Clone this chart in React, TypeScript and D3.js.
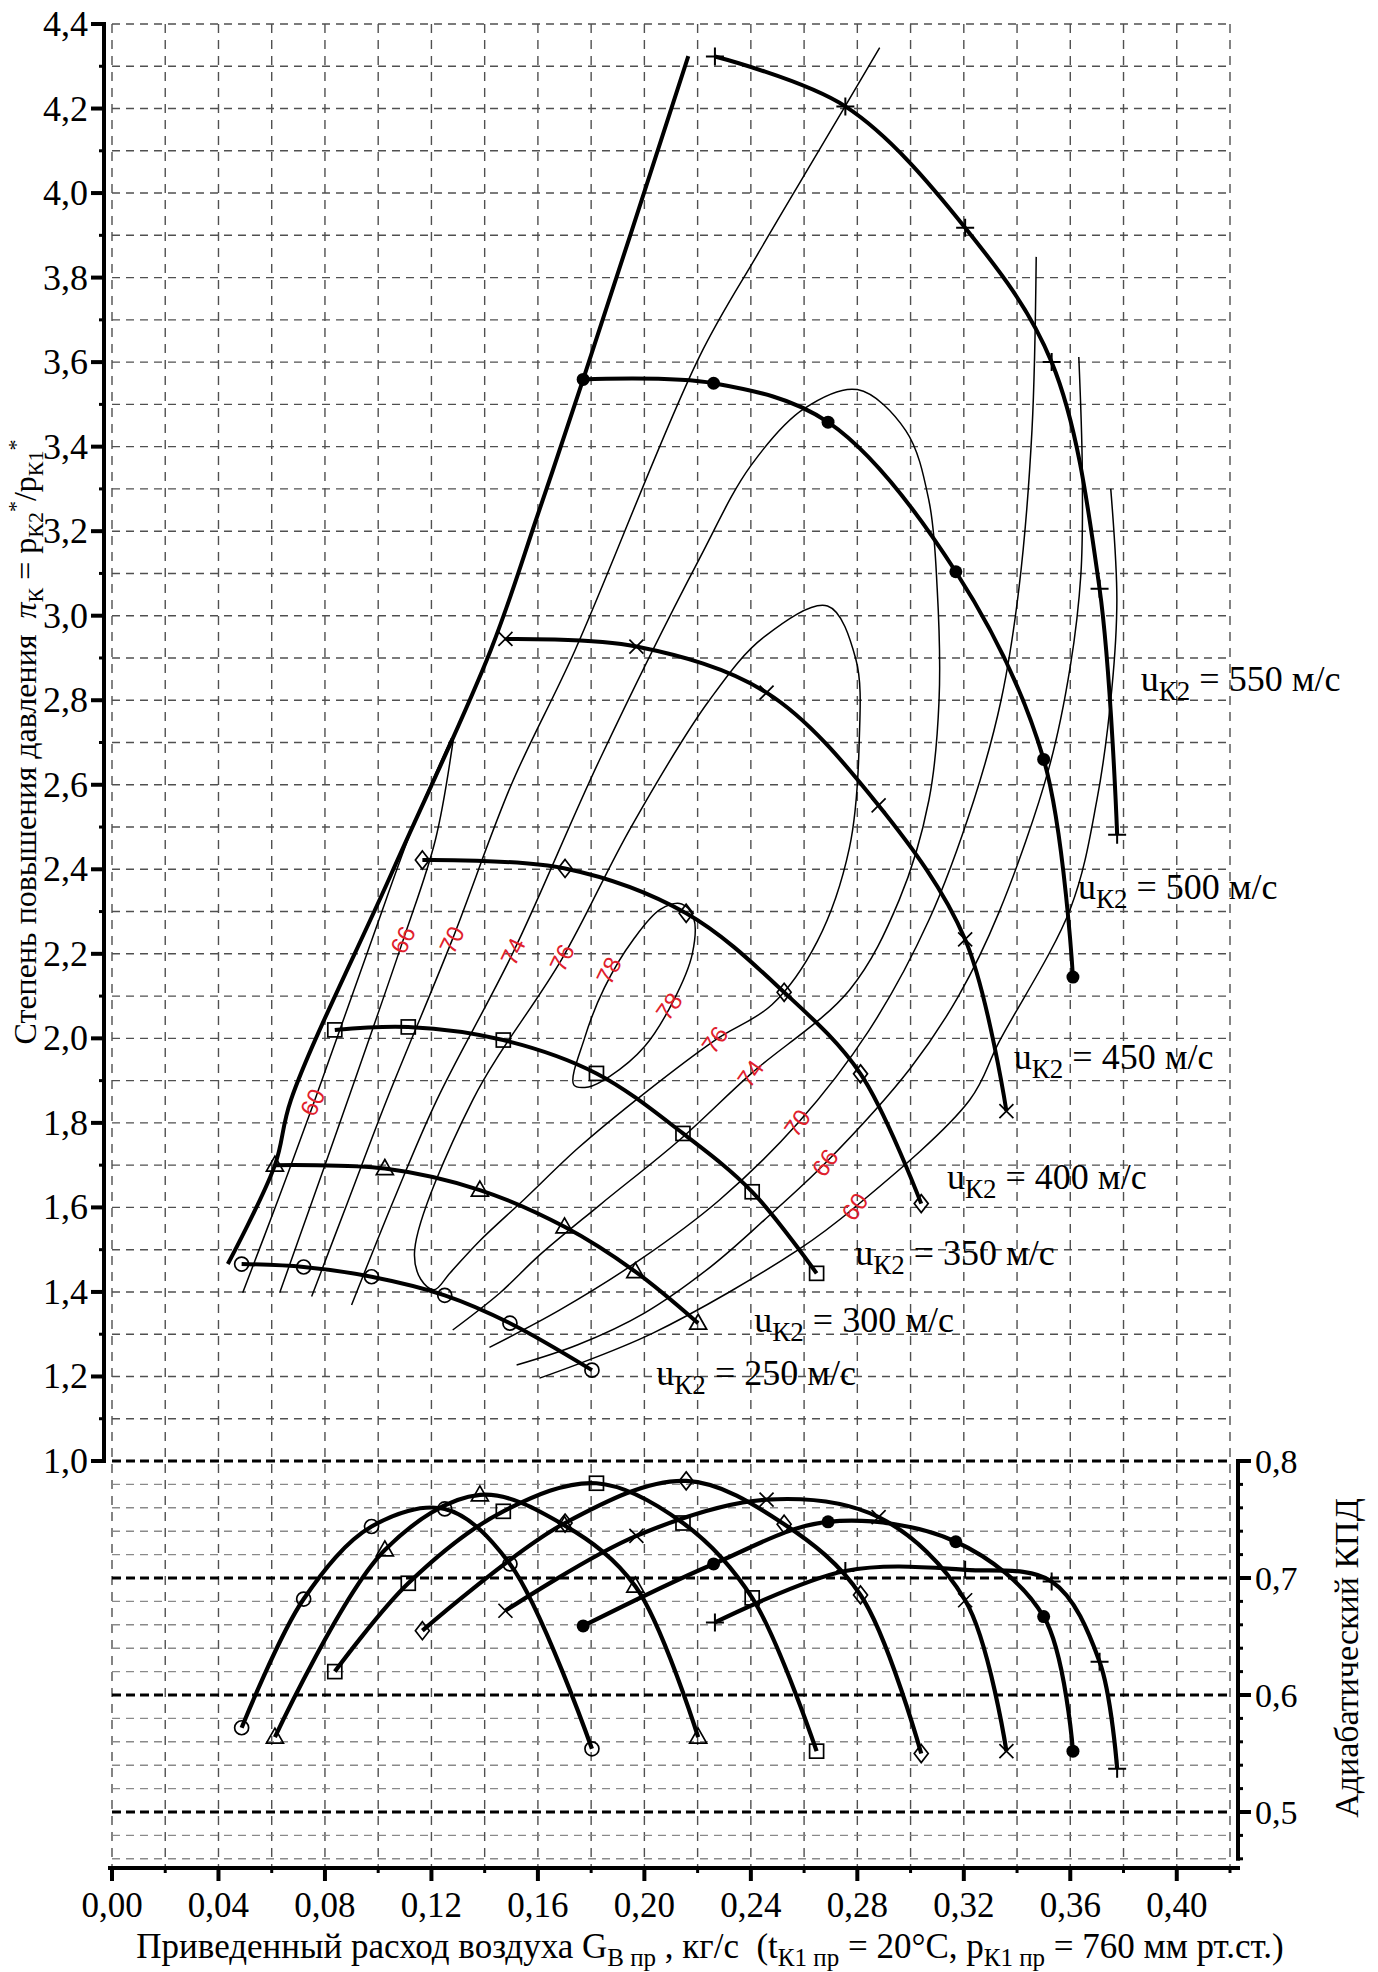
import React from "react";
import * as d3 from "d3";

const W = 1378;
const H = 1972;

// расход воздуха, кг/с — одни и те же точки для верхнего и нижнего графиков
const flow250 = [0.0487, 0.072, 0.0975, 0.125, 0.1495, 0.1803];
const pi250 = [1.466, 1.459, 1.436, 1.392, 1.326, 1.215];
const eta250 = [0.572, 0.682, 0.744, 0.759, 0.712, 0.554];

const flow300 = [0.0612, 0.1025, 0.1382, 0.17, 0.1966, 0.2202];
const pi300 = [1.7, 1.692, 1.641, 1.554, 1.448, 1.326];
const eta300 = [0.564, 0.724, 0.771, 0.745, 0.693, 0.564];

const flow350 = [0.0837, 0.1113, 0.147, 0.182, 0.2145, 0.2405, 0.2647];
const pi350 = [2.02, 2.027, 1.996, 1.917, 1.775, 1.637, 1.444];
const eta350 = [0.62, 0.6955, 0.757, 0.781, 0.747, 0.683, 0.552];

const flow400 = [0.1166, 0.1702, 0.2157, 0.2525, 0.2812, 0.304];
const pi400 = [2.422, 2.402, 2.296, 2.109, 1.916, 1.609];
const eta400 = [0.655, 0.747, 0.783, 0.746, 0.6855, 0.55];

const flow450 = [0.1478, 0.197, 0.2459, 0.288, 0.3205, 0.336];
const pi450 = [2.945, 2.927, 2.818, 2.551, 2.234, 1.828];
const eta450 = [0.672, 0.736, 0.767, 0.752, 0.681, 0.552];

const flow500 = [0.177, 0.226, 0.269, 0.317, 0.35, 0.361];
const pi500 = [3.559, 3.55, 3.458, 3.104, 2.66, 2.145];
const eta500 = [0.659, 0.712, 0.748, 0.731, 0.667, 0.552];

const flow550 = [0.2265, 0.2755, 0.3205, 0.353, 0.371, 0.3776];
const pi550 = [4.323, 4.205, 3.918, 3.6, 3.064, 2.482];
const eta550 = [0.662, 0.706, 0.707, 0.697, 0.6285, 0.537];

// граница помпажа
const surge: [number, number][] = [
  [0.0435, 1.466], [0.0612, 1.7], [0.0672, 1.854], [0.105, 2.39], [0.1423, 2.919],
  [0.16, 3.24], [0.177, 3.559], [0.2165, 4.324],
];

// линии постоянного КПД (%)
const eff60Left: [number, number][] = [
  [0.0491, 1.398], [0.0625, 1.62], [0.0762, 1.854], [0.0976, 2.233], [0.113, 2.5], [0.1275, 2.71],
];
const eff60Right: [number, number][] = [
  [0.3752, 3.3], [0.3775, 3.037], [0.3756, 2.826], [0.37, 2.564], [0.3601, 2.308], [0.3332, 1.991],
  [0.3222, 1.854], [0.2792, 1.601], [0.2576, 1.499], [0.203, 1.302], [0.1606, 1.196],
];
const eff66Left: [number, number][] = [
  [0.063, 1.398], [0.0755, 1.62], [0.0886, 1.854], [0.1094, 2.233], [0.1215, 2.47], [0.1285, 2.72],
];
const eff66Right: [number, number][] = [
  [0.3632, 3.612], [0.3645, 3.35], [0.364, 3.1], [0.36, 2.88], [0.352, 2.64], [0.3332, 2.298],
  [0.318, 2.1], [0.3, 1.93], [0.268, 1.705], [0.245, 1.57], [0.225, 1.46], [0.2, 1.35],
  [0.175, 1.275], [0.152, 1.227],
];
const eff70Left: [number, number][] = [
  [0.075, 1.389], [0.089, 1.62], [0.1032, 1.854], [0.1278, 2.233], [0.15, 2.6], [0.174, 2.919],
  [0.2206, 3.612], [0.243, 3.86], [0.2657, 4.102], [0.2884, 4.344],
];
const eff70Right: [number, number][] = [
  [0.3472, 3.849], [0.3456, 3.438], [0.3407, 3.064], [0.334, 2.8], [0.3238, 2.564], [0.3069, 2.28],
  [0.2844, 2.019], [0.2576, 1.799], [0.2281, 1.617], [0.1981, 1.475], [0.1681, 1.357], [0.1418, 1.269],
];
const eff74: [number, number][] = [
  [0.09, 1.369], [0.106, 1.62], [0.122, 1.854], [0.1508, 2.205], [0.1831, 2.658], [0.2206, 3.134],
  [0.24, 3.355], [0.26, 3.49], [0.28, 3.535], [0.2982, 3.438], [0.3069, 3.272], [0.31, 3.064],
  [0.3107, 2.8], [0.3069, 2.564], [0.2957, 2.327], [0.277, 2.114], [0.24, 1.916], [0.2131, 1.759],
  [0.1831, 1.605], [0.1606, 1.487], [0.1456, 1.397], [0.128, 1.31],
];
const eff76: [number, number][] = [
  [0.1137, 1.499], [0.1355, 1.854], [0.1692, 2.19], [0.195, 2.5], [0.2244, 2.8], [0.245, 2.95],
  [0.2688, 3.023], [0.2794, 2.898], [0.2807, 2.7], [0.277, 2.45], [0.265, 2.23], [0.248, 2.08],
  [0.2266, 1.996], [0.2, 1.87], [0.175, 1.74], [0.155, 1.62], [0.138, 1.52], [0.127, 1.445],
  [0.121, 1.405], [0.116, 1.43],
];
const eff78: [number, number][] = [
  [0.1735, 1.89], [0.1775, 2.0], [0.185, 2.12], [0.196, 2.235], [0.206, 2.305], [0.214, 2.318],
  [0.2185, 2.285], [0.218, 2.2], [0.211, 2.09], [0.2, 1.98], [0.187, 1.91], [0.179, 1.885],
];

const effLabelText = ["60", "66", "70", "74", "76", "78", "78", "76", "74", "70", "66", "60"];
const effLabelAt: [number, number][] = [
  [0.0755, 1.848], [0.1094, 2.233], [0.1278, 2.233], [0.1508, 2.205], [0.1692, 2.19], [0.1868, 2.16],
  [0.2094, 2.075], [0.2266, 1.996], [0.24, 1.916], [0.2576, 1.799], [0.268, 1.705], [0.2792, 1.601],
];

const speedNames = ["250", "300", "350", "400", "450", "500", "550"];
const speedLabelAt: [number, number][] = [
  [0.2045, 1.18], [0.2413, 1.305], [0.2792, 1.464], [0.3137, 1.643], [0.3388, 1.927], [0.3629, 2.33],
  [0.3865, 2.822],
];

const piTicks = d3.range(10, 45).map((v) => v / 10);
const flowTicks = d3.range(0, 22).map((v) => v * 0.02);
const etaTicks = d3.range(23, 41).map((v) => v / 50);

const speedLines = [
  { u: speedNames[0], marker: "circle", flow: flow250, pi: pi250, eta: eta250 },
  { u: speedNames[1], marker: "triangle", flow: flow300, pi: pi300, eta: eta300 },
  { u: speedNames[2], marker: "square", flow: flow350, pi: pi350, eta: eta350 },
  { u: speedNames[3], marker: "diamond", flow: flow400, pi: pi400, eta: eta400 },
  { u: speedNames[4], marker: "cross", flow: flow450, pi: pi450, eta: eta450 },
  { u: speedNames[5], marker: "dot", flow: flow500, pi: pi500, eta: eta500 },
  { u: speedNames[6], marker: "plus", flow: flow550, pi: pi550, eta: eta550 },
];

const x = d3.scaleLinear().domain([0, 0.42]).range([112, 1230]);
const yPi = d3.scaleLinear().domain([1.0, 4.4]).range([1461, 24]);
const yEta = d3.scaleLinear().domain([0.46, 0.8]).range([1858.8, 1461]);

const axisLeftX = 104;
const axisRightX = 1238;
const axisBottomY = 1868;

const serif = "'Liberation Serif', 'Times New Roman', serif";

const piLine = d3
  .line<[number, number]>()
  .x((d) => x(d[0]))
  .y((d) => yPi(d[1]))
  .curve(d3.curveCatmullRom.alpha(0.5));

const piLoop = d3
  .line<[number, number]>()
  .x((d) => x(d[0]))
  .y((d) => yPi(d[1]))
  .curve(d3.curveCatmullRomClosed.alpha(0.5));

const etaLine = d3
  .line<[number, number]>()
  .x((d) => x(d[0]))
  .y((d) => yEta(d[1]))
  .curve(d3.curveCatmullRom.alpha(0.5));

const comma = (v: number, digits: number) => v.toFixed(digits).replace(".", ",");

function Marker({ kind, cx, cy }: { kind: string; cx: number; cy: number }) {
  const sw = 1.7;
  switch (kind) {
    case "circle":
      return <circle cx={cx} cy={cy} r={7} fill="none" stroke="#000" strokeWidth={sw} />;
    case "triangle":
      return (
        <path
          d={`M${cx},${cy - 9}L${cx + 8.5},${cy + 6}L${cx - 8.5},${cy + 6}Z`}
          fill="none"
          stroke="#000"
          strokeWidth={sw}
        />
      );
    case "square":
      return <rect x={cx - 7} y={cy - 7} width={14} height={14} fill="none" stroke="#000" strokeWidth={sw} />;
    case "diamond":
      return (
        <path d={`M${cx},${cy - 9}L${cx + 7},${cy}L${cx},${cy + 9}L${cx - 7},${cy}Z`} fill="none" stroke="#000" strokeWidth={sw} />
      );
    case "cross":
      return (
        <path d={`M${cx - 7},${cy - 7}L${cx + 7},${cy + 7}M${cx - 7},${cy + 7}L${cx + 7},${cy - 7}`} stroke="#000" strokeWidth={sw} />
      );
    case "dot":
      return <circle cx={cx} cy={cy} r={6.5} fill="#000" />;
    default:
      return <path d={`M${cx - 9},${cy}H${cx + 9}M${cx},${cy - 9}V${cy + 9}`} stroke="#000" strokeWidth={2} />;
  }
}

export default function App() {
  const zip = (a: number[], b: number[]) => a.map((v, i) => [v, b[i]] as [number, number]);

  return (
    <svg
      width={W}
      height={H}
      viewBox={`0 0 ${W} ${H}`}
      style={{ position: "absolute", left: 0, top: 0, background: "#fff" }}
      fontFamily={serif}
    >
      <rect width={W} height={H} fill="#fff" />

      {/* сетка */}
      <g>
        {flowTicks.map((v) => (
          <line
            key={"v" + v}
            x1={x(v)}
            x2={x(v)}
            y1={yPi(4.4)}
            y2={axisBottomY}
            stroke="#505050"
            strokeWidth={1.4}
            strokeDasharray="9,7"
          />
        ))}
        {piTicks
          .filter((p) => p > 1.05)
          .map((p) => (
            <line key={"h" + p} x1={x(0)} x2={x(0.42)} y1={yPi(p)} y2={yPi(p)} stroke="#505050" strokeWidth={1.4} strokeDasharray="8,6" />
          ))}
        {etaTicks.map((e) => {
          const bold = Math.round(e * 100) % 10 === 0;
          return (
            <line
              key={"e" + e}
              x1={x(0)}
              x2={x(0.42)}
              y1={yEta(e)}
              y2={yEta(e)}
              stroke={bold ? "#000" : "#8a8a8a"}
              strokeWidth={bold ? 2.8 : 1.4}
              strokeDasharray={bold ? "9,5" : "8,6"}
            />
          );
        })}
      </g>

      {/* линии КПД */}
      <g fill="none" stroke="#000" strokeWidth={1.5}>
        <path d={piLine(eff60Left) ?? ""} />
        <path d={piLine(eff60Right) ?? ""} />
        <path d={piLine(eff66Left) ?? ""} />
        <path d={piLine(eff66Right) ?? ""} />
        <path d={piLine(eff70Left) ?? ""} />
        <path d={piLine(eff70Right) ?? ""} />
        <path d={piLine(eff74) ?? ""} />
        <path d={piLoop(eff76) ?? ""} />
        <path d={piLoop(eff78) ?? ""} />
      </g>

      {/* граница помпажа */}
      <path d={piLine(surge) ?? ""} fill="none" stroke="#000" strokeWidth={4} />

      {/* напорные характеристики и КПД */}
      {speedLines.map((s) => (
        <g key={s.u}>
          <path d={piLine(zip(s.flow, s.pi)) ?? ""} fill="none" stroke="#000" strokeWidth={4} />
          <path d={etaLine(zip(s.flow, s.eta)) ?? ""} fill="none" stroke="#000" strokeWidth={4.2} />
          {s.flow.map((f, i) => (
            <Marker key={"p" + i} kind={s.marker} cx={x(f)} cy={yPi(s.pi[i])} />
          ))}
          {s.flow.map((f, i) => (
            <Marker key={"e" + i} kind={s.marker} cx={x(f)} cy={yEta(s.eta[i])} />
          ))}
        </g>
      ))}

      {/* подписи КПД */}
      {effLabelText.map((t, i) => {
        const px = x(effLabelAt[i][0]);
        const py = yPi(effLabelAt[i][1]);
        const rot = i < 6 ? -64 : -55;
        return (
          <text
            key={"l" + i}
            transform={`translate(${px},${py}) rotate(${rot})`}
            textAnchor="middle"
            dy={8}
            fontFamily="'Liberation Sans', Arial, sans-serif"
            fontSize={24}
            fill="#e0202c"
          >
            {t}
          </text>
        );
      })}

      {/* подписи окружных скоростей */}
      {speedNames.map((u, i) => (
        <text key={"u" + u} x={x(speedLabelAt[i][0])} y={yPi(speedLabelAt[i][1])} fontSize={36} style={{ whiteSpace: "pre" }}>
          u
          <tspan dy={9} fontSize={27}>
            К2
          </tspan>
          <tspan dy={-9}>{` = ${u} м/с`}</tspan>
        </text>
      ))}

      {/* левая ось */}
      <line x1={axisLeftX} x2={axisLeftX} y1={yPi(4.4) - 2} y2={yPi(1.0) + 2} stroke="#000" strokeWidth={4} />
      {piTicks.map((p, i) => {
        const major = i % 2 === 0;
        return (
          <g key={"lt" + p}>
            <line x1={axisLeftX - (major ? 13 : 5)} x2={axisLeftX} y1={yPi(p)} y2={yPi(p)} stroke="#000" strokeWidth={major ? 4 : 3} />
            {major && (
              <text x={88} y={yPi(p) + 12} textAnchor="end" fontSize={36}>
                {comma(p, 1)}
              </text>
            )}
          </g>
        );
      })}

      {/* нижняя ось */}
      <line x1={axisLeftX + 4} x2={axisRightX + 2} y1={axisBottomY} y2={axisBottomY} stroke="#000" strokeWidth={4} />
      {flowTicks.map((v, i) => {
        const major = i % 2 === 0;
        return (
          <g key={"bt" + i}>
            <line x1={x(v)} x2={x(v)} y1={axisBottomY} y2={axisBottomY + (major ? 13 : 5)} stroke="#000" strokeWidth={major ? 4 : 3} />
            {major && v < 0.41 && (
              <text x={x(v)} y={1917} textAnchor="middle" fontSize={35}>
                {comma(v, 2)}
              </text>
            )}
          </g>
        );
      })}

      {/* правая ось */}
      <line x1={axisRightX} x2={axisRightX} y1={yEta(0.8) - 2} y2={yEta(0.46) + 2} stroke="#000" strokeWidth={4} />
      {etaTicks.map((e) => {
        const major = Math.round(e * 100) % 10 === 0;
        return (
          <g key={"rt" + e}>
            <line x1={axisRightX} x2={axisRightX + (major ? 13 : 5)} y1={yEta(e)} y2={yEta(e)} stroke="#000" strokeWidth={major ? 4 : 3} />
            {major && (
              <text x={1255} y={yEta(e) + 12} fontSize={34}>
                {comma(e, 1)}
              </text>
            )}
          </g>
        );
      })}

      {/* названия осей */}
      <text transform="translate(36,742) rotate(-90)" textAnchor="middle" fontSize={32} style={{ whiteSpace: "pre" }}>
        {"Степень повышения давления  "}
        <tspan fontStyle="italic">π</tspan>
        <tspan dy={7} fontSize={22}>К</tspan>
        <tspan dy={-7}>{" = p"}</tspan>
        <tspan dy={7} fontSize={22}>К2</tspan>
        <tspan dy={-20} fontSize={22}>*</tspan>
        <tspan dy={13}>/p</tspan>
        <tspan dy={7} fontSize={22}>К1</tspan>
        <tspan dy={-20} fontSize={22}>*</tspan>
      </text>

      <text transform="translate(1358,1658) rotate(-90)" textAnchor="middle" fontSize={34}>
        Адиабатический КПД
      </text>

      <text x={710} y={1958} textAnchor="middle" fontSize={35} style={{ whiteSpace: "pre" }}>
        {"Приведенный расход воздуха G"}
        <tspan dy={8} fontSize={25}>В пр</tspan>
        <tspan dy={-8}>{" , кг/с  (t"}</tspan>
        <tspan dy={8} fontSize={25}>К1 пр</tspan>
        <tspan dy={-8}>{" = 20°C, p"}</tspan>
        <tspan dy={8} fontSize={25}>К1 пр</tspan>
        <tspan dy={-8}>{" = 760 мм рт.ст.)"}</tspan>
      </text>
    </svg>
  );
}
